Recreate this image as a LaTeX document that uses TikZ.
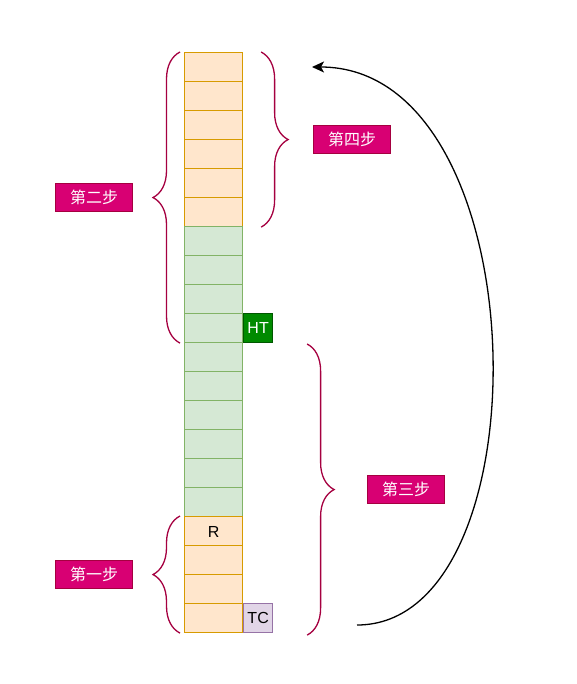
\documentclass[tikz,border=0pt]{standalone}
\usepackage{fontspec}
\setmainfont{Liberation Sans}
\newfontfamily\cjk{Noto Sans CJK SC}
\usepackage{tikz}
\usetikzlibrary{positioning, arrows.meta, decorations.pathreplacing}

\definecolor{orangefill}{HTML}{FFE6CC}
\definecolor{orangeline}{HTML}{D79B00}
\definecolor{greenfill}{HTML}{D5E8D4}
\definecolor{greenline}{HTML}{82B366}
\definecolor{htfill}{HTML}{008A00}
\definecolor{htline}{HTML}{005700}
\definecolor{tcfill}{HTML}{E1D5E7}
\definecolor{tcline}{HTML}{9673A6}
\definecolor{bracecol}{HTML}{A50040}
\definecolor{labelfill}{HTML}{D80073}

\tikzset{
	cell/.style={draw, line width=1.1pt, minimum width=58pt, minimum height=29pt, inner sep=0pt, anchor=north west},
	orangecell/.style={cell, fill=orangefill, draw=orangeline},
	greencell/.style={cell, fill=greenfill, draw=greenline},
	marker/.style={draw, line width=1.1pt, minimum size=29pt, inner sep=0pt, anchor=north west},
	bracket/.style={decorate, decoration={brace, amplitude=27pt}, draw=bracecol, line width=1.3pt},
	steplabel/.style={draw=bracecol, fill=labelfill, text=white, line width=1pt, minimum width=77pt, minimum height=28pt, inner sep=0pt, font=\cjk\fontsize{16}{19}\selectfont}
}

\begin{document}
\begin{tikzpicture}
	[
	x=1pt, y=1pt, font=\fontsize{16}{19}\selectfont, >={Stealth[length=12pt, width=11pt, inset=3pt]}
	%Pixelraster der Vorlage, y nach unten negativ
	]
	\useasboundingbox (0,0) rectangle (576,-684);
	%Speicherzellen
	\foreach \i in {1,...,20}{
		\ifnum\i<7
			\node[orangecell] (c\i) at (184, -52-29*\i+29) {};
		\else\ifnum\i<17
			\node[greencell] (c\i) at (184, -52-29*\i+29) {};
		\else
			\node[orangecell] (c\i) at (184, -52-29*\i+29) {};
		\fi\fi
	}
	\node at ([yshift=-1pt]c17.center) {R};
	\node[marker, fill=htfill, draw=htline, text=white] (ht) at (c10.north east) {HT};
	\node[marker, fill=tcfill, draw=tcline] (tc) at (c20.north east) {TC};
	%Klammern mit Schritten
	\draw[bracket] ([xshift=-4pt]c10.south west) -- ([xshift=-4pt]c1.north west)
		node[steplabel, midway, left=47pt] (s2) {第二步};
	\draw[bracket] ([xshift=-4pt]c20.south west) -- ([xshift=-4pt]c17.north west)
		node[steplabel, midway, left=47pt] (s1) {第一步};
	\draw[bracket] ([xshift=18pt]c1.north east) -- ([xshift=18pt]c6.south east)
		node[steplabel, midway, right=52pt] (s4) {第四步};
	\draw[bracket] ([xshift=64pt, yshift=-2pt]c11.north east) -- ([xshift=64pt, yshift=-2pt]c20.south east)
		node[steplabel, midway, right=60pt] (s3) {第三步};
	%Rücksprung
	\coordinate (loopstart) at (357,-625);
	\coordinate (loopend) at (312,-67);
	\draw[->, line width=1.3pt] (loopstart) .. controls (548,-625) and (540,-67) .. (loopend);
\end{tikzpicture}
\end{document}
